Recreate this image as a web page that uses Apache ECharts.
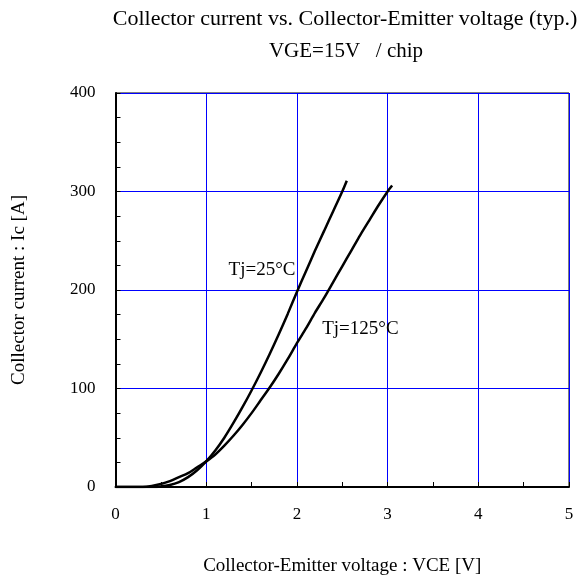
<!DOCTYPE html>
<html><head><meta charset="utf-8">
<script src="https://cdn.jsdelivr.net/npm/echarts@6/dist/echarts.min.js"></script>
<style>html,body{margin:0;padding:0;background:#fff}#c{width:582px;height:580px}</style>
</head><body><div id="c"></div>
<script>
const vce25 = [0, 0.1, 0.2, 0.3, 0.4, 0.5, 0.6, 0.7, 0.8, 0.9, 1.0, 1.1, 1.2, 1.3, 1.4, 1.5, 1.6, 1.7, 1.8, 1.9, 2.0, 2.1, 2.2, 2.3, 2.4, 2.5, 2.55];
const ic25  = [0, 0, 0, 0, 0, 0.5, 2, 5, 10, 17, 26, 37, 50, 65, 81, 98, 116, 135, 155, 176, 198, 219, 240, 260, 280, 300, 311];
const vce125 = [0, 0.1, 0.2, 0.3, 0.4, 0.5, 0.6, 0.7, 0.8, 0.9, 1.0, 1.1, 1.2, 1.3, 1.4, 1.5, 1.6, 1.7, 1.8, 1.9, 2.0, 2.1, 2.2, 2.3, 2.4, 2.5, 2.6, 2.7, 2.8, 2.9, 3.0, 3.05];
const ic125  = [0, 0, 0, 0, 1, 3, 6, 10, 14, 20, 26, 33, 42, 52, 63, 75, 88, 101, 115, 130, 146, 161, 177, 192, 208, 224, 240, 256, 271, 286, 300, 306];
const xTicks = [0, 1, 2, 3, 4, 5];
const yTicks = [0, 100, 200, 300, 400];
const titleText = 'Collector current vs. Collector-Emitter voltage (typ.)';
const subText = 'VGE=15V   / chip';
const label25 = 'Tj=25°C';
const label125 = 'Tj=125°C';

const font = 'Liberation Serif';
const chart = echarts.init(document.getElementById('c'));
const zip = (a, b) => a.map((v, i) => [v, b[i]]);
chart.setOption({
  animation: false,
  title: [
    {text: titleText, left: 345, top: 8, textAlign: 'center', padding: 0,
      textStyle: {fontFamily: font, fontSize: 22, fontWeight: 'normal', color: '#000'}},
    {text: subText, left: 346, top: 41, textAlign: 'center', padding: 0,
      textStyle: {fontFamily: font, fontSize: 21, fontWeight: 'normal', color: '#000'}}
  ],
  grid: {left: 115.5, right: 13, top: 93, bottom: 93, show: true, borderColor: '#000', borderWidth: 1,
    outerBoundsMode: 'none', containLabel: false},
  xAxis: {
    type: 'value', min: 0, max: 5, interval: 1,
    name: 'Collector-Emitter voltage : VCE [V]', nameLocation: 'middle', nameGap: 70,
    nameTextStyle: {fontFamily: font, fontSize: 19, color: '#000'},
    axisLine: {lineStyle: {color: '#000', width: 2}},
    axisTick: {inside: true, length: 5, lineStyle: {color: '#000'}},
    minorTick: {show: true, splitNumber: 2, length: 5, lineStyle: {color: '#000'}},
    axisLabel: {fontFamily: font, fontSize: 17, color: '#000', margin: 19,
      formatter: v => xTicks.includes(v) ? String(v) : ''},
    splitLine: {show: true, lineStyle: {color: '#0000ff', width: 1}}
  },
  yAxis: {
    type: 'value', min: 0, max: 400, interval: 100,
    name: 'Collector current : Ic [A]', nameLocation: 'middle', nameGap: 87,
    nameTextStyle: {fontFamily: font, fontSize: 19, color: '#000'},
    axisLine: {lineStyle: {color: '#000', width: 2}},
    axisTick: {inside: true, length: 5, lineStyle: {color: '#000'}},
    minorTick: {show: true, splitNumber: 4, length: 5, lineStyle: {color: '#000'}},
    axisLabel: {fontFamily: font, fontSize: 17, color: '#000', margin: 20,
      formatter: v => yTicks.includes(v) ? String(v) : ''},
    splitLine: {show: true, lineStyle: {color: '#0000ff', width: 1}}
  },
  series: [
    {type: 'line', data: zip(vce25, ic25), smooth: 0.3, showSymbol: false, lineStyle: {color: '#000', width: 2.5},
      markPoint: {symbol: 'rect', symbolSize: 0, data: [{coord: [1.615, 220], label: {show: true, formatter: label25, fontFamily: font, fontSize: 19, color: '#000'}}]}},
    {type: 'line', data: zip(vce125, ic125), smooth: 0.3, showSymbol: false, lineStyle: {color: '#000', width: 2.5},
      markPoint: {symbol: 'rect', symbolSize: 0, data: [{coord: [2.70, 160], label: {show: true, formatter: label125, fontFamily: font, fontSize: 19, color: '#000'}}]}}
  ]
});
</script></body></html>
